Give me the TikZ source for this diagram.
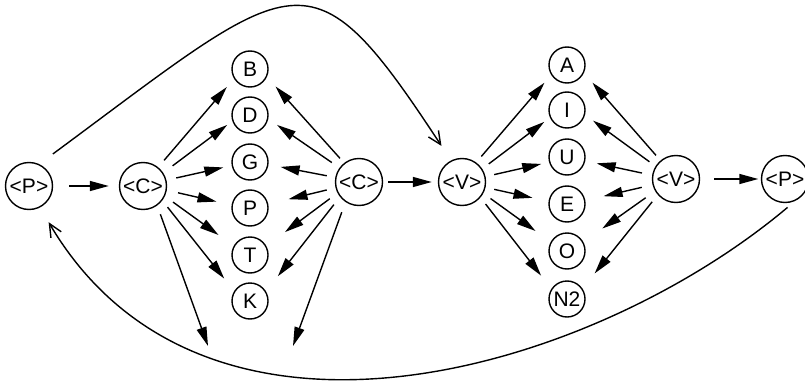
\documentclass[tikz,border=0pt]{standalone}
\usepackage{fontspec}
\setmainfont{Liberation Sans}
\usetikzlibrary{arrows.meta}

\tikzset{
  state/.style={circle, draw, line width=1.4pt, inner sep=0pt,
                font=\fontsize{21}{21}\selectfont},
  big/.style={state, minimum size=47pt},
  small/.style={state, minimum size=36pt},
  arr/.style={line width=1.4pt, -{Triangle[length=19pt,width=10pt]}},
  back/.style={line width=1.4pt, -{Straight Barb[length=13pt,width=12pt]}},
}

\begin{document}
\begin{tikzpicture}[x=1pt, y=-1pt]
\useasboundingbox (0,0) rectangle (805,385);

% class nodes
\node[big] (P1) at (29,186) {<P>};
\node[big] (C1) at (143,186) {<C>};
\node[big] (C2) at (359,182) {<C>};
\node[big] (V1) at (462,182) {<V>};
\node[big] (V2) at (676,179) {<V>};
\node[big] (P2) at (785,179) {<P>};

% consonants
\node[small] (B) at (250,69)  {B};
\node[small] (D) at (250,115) {D};
\node[small] (G) at (250,162) {G};
\node[small] (P) at (250,208) {P};
\node[small] (T) at (250,255) {T};
\node[small] (K) at (250,301) {K};

% vowels
\node[small] (A)  at (567,65)  {A};
\node[small] (I)  at (567,110) {I};
\node[small] (U)  at (567,157) {U};
\node[small] (E)  at (567,204) {E};
\node[small] (O)  at (567,251) {O};
\node[small] (N2) at (567,299) {N2};

% open ends of the two downward arrows
\coordinate (cd1) at (208,346);
\coordinate (cd2) at (293,346);

% <P> -> <C>
\draw[arr, shorten <=16pt, shorten >=10pt] (P1.east) -- (C1.west);

% first <C> fans out
\draw[arr, shorten <=9pt,   shorten >=11pt]   (C1.51)  -- (B.211);
\draw[arr, shorten <=11.7pt, shorten >=6.4pt] (C1.33)  -- (D.199);
\draw[arr, shorten <=10pt,  shorten >=8.5pt]  (C1.14)  -- (G.191);
\draw[arr, shorten <=11.5pt, shorten >=15.4pt](C1.-10) -- (P.171);
\draw[arr, shorten <=10pt,  shorten >=18.7pt] (C1.-25) -- (T.151);
\draw[arr, shorten <=8.4pt, shorten >=16pt]   (C1.-37) -- (K.148);
\draw[arr, shorten <=9.2pt] (C1.-54) -- (cd1);

% second <C> fans out
\draw[arr, shorten <=6.2pt, shorten >=12.9pt] (C2.128) -- (B.-25);
\draw[arr, shorten <=9.2pt, shorten >=10.6pt] (C2.144) -- (D.-12);
\draw[arr, shorten <=8.6pt, shorten >=12.3pt] (C2.169) -- (G.-8);
\draw[arr, shorten <=9pt,   shorten >=20.8pt] (C2.194) -- (P.12);
\draw[arr, shorten <=9.6pt, shorten >=23.2pt] (C2.207) -- (T.29);
\draw[arr, shorten <=9.8pt, shorten >=19.2pt] (C2.218) -- (K.31);
\draw[arr, shorten <=10.8pt] (C2.236) -- (cd2);

% <C> -> <V>
\draw[arr, shorten <=5pt, shorten >=6pt] (C2.east) -- (V1.west);

% first <V> fans out
\draw[arr, shorten <=7.8pt, shorten >=10.3pt] (V1.54)  -- (A.212);
\draw[arr, shorten <=8.1pt, shorten >=7.1pt]  (V1.33)  -- (I.204);
\draw[arr, shorten <=8.8pt, shorten >=8pt]    (V1.13)  -- (U.196);
\draw[arr, shorten <=8.8pt, shorten >=16.4pt] (V1.-13) -- (E.172);
\draw[arr, shorten <=8.8pt, shorten >=18.7pt] (V1.-28) -- (O.151);
\draw[arr, shorten <=8.2pt, shorten >=16.7pt] (V1.-40) -- (N2.147);

% second <V> fans out
\draw[arr, shorten <=6.8pt,  shorten >=12.9pt] (V2.130) -- (A.-25);
\draw[arr, shorten <=7.5pt,  shorten >=9.9pt]  (V2.148) -- (I.-15);
\draw[arr, shorten <=10.4pt, shorten >=11.6pt] (V2.171) -- (U.-12);
\draw[arr, shorten <=11pt,   shorten >=18.7pt] (V2.194) -- (E.11);
\draw[arr, shorten <=11.5pt, shorten >=23.2pt] (V2.210) -- (O.29);
\draw[arr, shorten <=8.9pt,  shorten >=19.4pt] (V2.221) -- (N2.34);

% <V> -> <P>
\draw[arr, shorten <=14pt, shorten >=2.5pt] (V2.east) -- (P2.west);

% long curved connections
\draw[back, shorten <=17pt, shorten >=17.4pt]
  (P1.65) .. controls (299,-28) and (309,-56) .. (V1.117);
\draw[back, shorten <=10pt, shorten >=17pt]
  (P2.-65) .. controls (592,372) and (205,487) .. (P1.-63);
\end{tikzpicture}
\end{document}
